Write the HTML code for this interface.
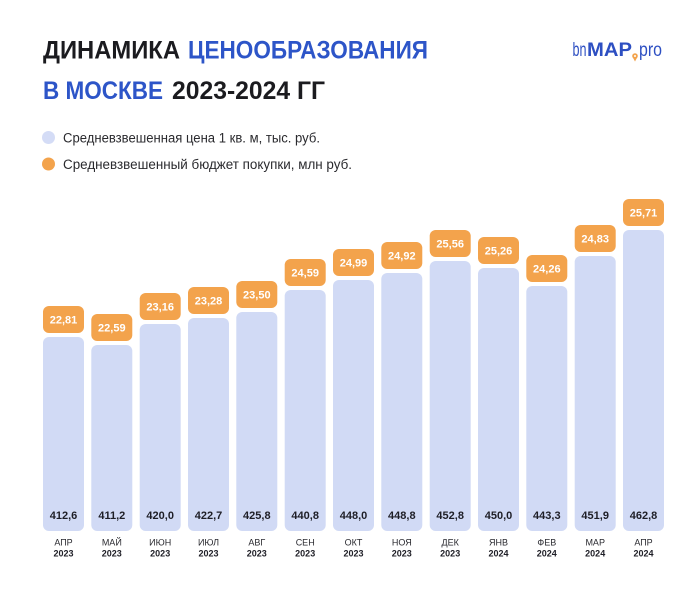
<!DOCTYPE html>
<html><head><meta charset="utf-8"><style>
html,body{margin:0;padding:0;background:#fff;}
svg{display:block;}
text{font-family:"Liberation Sans",sans-serif;}
</style></head><body>
<svg width="695" height="600" viewBox="0 0 695 600" xmlns="http://www.w3.org/2000/svg">
<rect width="695" height="600" fill="#fff"/>
<!-- Title -->
<g font-weight="bold" font-size="25">
<text x="43" y="58.5" fill="#1b1b1f" textLength="137" lengthAdjust="spacingAndGlyphs">ДИНАМИКА</text>
<text x="188" y="58.5" fill="#2d55c8" textLength="240" lengthAdjust="spacingAndGlyphs">ЦЕНООБРАЗОВАНИЯ</text>
<text x="43" y="99" fill="#2d55c8" textLength="120" lengthAdjust="spacingAndGlyphs">В МОСКВЕ</text>
<text x="172" y="99" fill="#1b1b1f" textLength="153" lengthAdjust="spacingAndGlyphs">2023-2024 ГГ</text>
</g>
<!-- Logo -->
<g fill="#2d4fc2">
<text x="572.5" y="56" font-size="19" textLength="14" lengthAdjust="spacingAndGlyphs">bn</text>
<text x="587" y="56" font-size="19" font-weight="bold" textLength="45" lengthAdjust="spacingAndGlyphs">MAP</text>
<text x="639" y="56" font-size="19" textLength="23" lengthAdjust="spacingAndGlyphs">pro</text>
</g>
<circle cx="635" cy="56" r="2.8" fill="#f3a34c"/>
<path d="M632.6 57 L635 61.5 L637.4 57 Z" fill="#f3a34c"/>
<circle cx="635" cy="56" r="1" fill="#fff"/>
<!-- Legend -->
<circle cx="48.5" cy="137.5" r="6.5" fill="#d4dcf6"/>
<circle cx="48.5" cy="164" r="6.5" fill="#f3a34c"/>
<g font-size="13.5" fill="#2a2a2e">
<text x="63" y="142.5" textLength="257" lengthAdjust="spacingAndGlyphs">Средневзвешенная цена 1 кв. м, тыс. руб.</text>
<text x="63" y="169" textLength="289" lengthAdjust="spacingAndGlyphs">Средневзвешенный бюджет покупки, млн руб.</text>
</g>
<!-- Bars -->
<g fill="#d1daf5">
<rect x="43" y="337" width="41" height="194" rx="6"/>
<rect x="91.3" y="345" width="41" height="186" rx="6"/>
<rect x="139.7" y="324" width="41" height="207" rx="6"/>
<rect x="188" y="318" width="41" height="213" rx="6"/>
<rect x="236.3" y="312" width="41" height="219" rx="6"/>
<rect x="284.7" y="290" width="41" height="241" rx="6"/>
<rect x="333" y="280" width="41" height="251" rx="6"/>
<rect x="381.3" y="273" width="41" height="258" rx="6"/>
<rect x="429.7" y="261" width="41" height="270" rx="6"/>
<rect x="478" y="268" width="41" height="263" rx="6"/>
<rect x="526.3" y="286" width="41" height="245" rx="6"/>
<rect x="574.7" y="256" width="41" height="275" rx="6"/>
<rect x="623" y="230" width="41" height="301" rx="6"/>
</g>
<g fill="#f3a34c">
<rect x="43" y="306" width="41" height="27" rx="6"/>
<rect x="91.3" y="314" width="41" height="27" rx="6"/>
<rect x="139.7" y="293" width="41" height="27" rx="6"/>
<rect x="188" y="287" width="41" height="27" rx="6"/>
<rect x="236.3" y="281" width="41" height="27" rx="6"/>
<rect x="284.7" y="259" width="41" height="27" rx="6"/>
<rect x="333" y="249" width="41" height="27" rx="6"/>
<rect x="381.3" y="242" width="41" height="27" rx="6"/>
<rect x="429.7" y="230" width="41" height="27" rx="6"/>
<rect x="478" y="237" width="41" height="27" rx="6"/>
<rect x="526.3" y="255" width="41" height="27" rx="6"/>
<rect x="574.7" y="225" width="41" height="27" rx="6"/>
<rect x="623" y="199" width="41" height="27" rx="6"/>
</g>
<g fill="#fff" font-size="11" font-weight="bold" text-anchor="middle">
<text x="63.5" y="323.5">22,81</text>
<text x="111.8" y="331.5">22,59</text>
<text x="160.2" y="310.5">23,16</text>
<text x="208.5" y="304.5">23,28</text>
<text x="256.8" y="298.5">23,50</text>
<text x="305.2" y="276.5">24,59</text>
<text x="353.5" y="266.5">24,99</text>
<text x="401.8" y="259.5">24,92</text>
<text x="450.2" y="247.5">25,56</text>
<text x="498.5" y="254.5">25,26</text>
<text x="546.8" y="272.5">24,26</text>
<text x="595.2" y="242.5">24,83</text>
<text x="643.5" y="216.5">25,71</text>
</g>
<g fill="#1e1e26" font-size="11" font-weight="bold" text-anchor="middle">
<text x="63.5" y="519">412,6</text>
<text x="111.8" y="519">411,2</text>
<text x="160.2" y="519">420,0</text>
<text x="208.5" y="519">422,7</text>
<text x="256.8" y="519">425,8</text>
<text x="305.2" y="519">440,8</text>
<text x="353.5" y="519">448,0</text>
<text x="401.8" y="519">448,8</text>
<text x="450.2" y="519">452,8</text>
<text x="498.5" y="519">450,0</text>
<text x="546.8" y="519">443,3</text>
<text x="595.2" y="519">451,9</text>
<text x="643.5" y="519">462,8</text>
</g>
<g fill="#2a2a30" font-size="9" text-anchor="middle">
<text x="63.5" y="545.5">АПР</text>
<text x="111.8" y="545.5">МАЙ</text>
<text x="160.2" y="545.5">ИЮН</text>
<text x="208.5" y="545.5">ИЮЛ</text>
<text x="256.8" y="545.5">АВГ</text>
<text x="305.2" y="545.5">СЕН</text>
<text x="353.5" y="545.5">ОКТ</text>
<text x="401.8" y="545.5">НОЯ</text>
<text x="450.2" y="545.5">ДЕК</text>
<text x="498.5" y="545.5">ЯНВ</text>
<text x="546.8" y="545.5">ФЕВ</text>
<text x="595.2" y="545.5">МАР</text>
<text x="643.5" y="545.5">АПР</text>
</g>
<g fill="#1e1e26" font-size="9" font-weight="bold" text-anchor="middle">
<text x="63.5" y="556.5">2023</text>
<text x="111.8" y="556.5">2023</text>
<text x="160.2" y="556.5">2023</text>
<text x="208.5" y="556.5">2023</text>
<text x="256.8" y="556.5">2023</text>
<text x="305.2" y="556.5">2023</text>
<text x="353.5" y="556.5">2023</text>
<text x="401.8" y="556.5">2023</text>
<text x="450.2" y="556.5">2023</text>
<text x="498.5" y="556.5">2024</text>
<text x="546.8" y="556.5">2024</text>
<text x="595.2" y="556.5">2024</text>
<text x="643.5" y="556.5">2024</text>
</g>
</svg>
</body></html>
